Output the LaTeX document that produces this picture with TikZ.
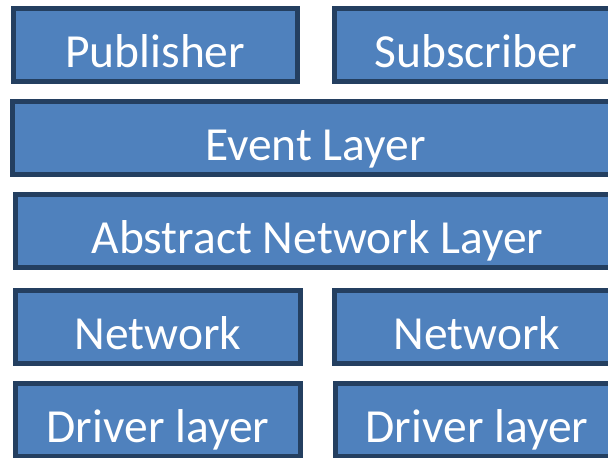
\documentclass[tikz,border=0pt]{standalone}
\usepackage{fontspec}
\setmainfont{Carlito}
\definecolor{layerfill}{HTML}{4F81BD}
\definecolor{layerline}{HTML}{243F60}
\tikzset{layer/.style={draw=layerline, line width=5pt, fill=layerfill, text=white,
  font=\fontsize{47.5}{57}\selectfont, inner sep=0pt, text height=59pt, text depth=14pt}}
\begin{document}
\begin{tikzpicture}[x=1pt,y=-1pt]
\path[use as bounding box, clip] (0,0) rectangle (608,458);
\node[layer, minimum width=284.5pt] (pub) at (155.25,44.75) {Publisher};
\node[layer, minimum width=283pt] (sub) at (476,45) {Subscriber};

\node[layer, minimum width=606pt] (event) at (315.5,138) {Event Layer};
\node[layer, minimum width=604pt] (abstract) at (317.5,230.5) {Abstract Network Layer};

\node[layer, minimum width=285pt] (netl) at (158,326.5) {Network};
\node[layer, minimum width=285pt] (netr) at (477,326.5) {Network};

\node[layer, minimum width=285pt] (drvl) at (158,420) {Driver layer};
\node[layer, minimum width=283pt] (drvr) at (477,420) {Driver layer};
\end{tikzpicture}
\end{document}
